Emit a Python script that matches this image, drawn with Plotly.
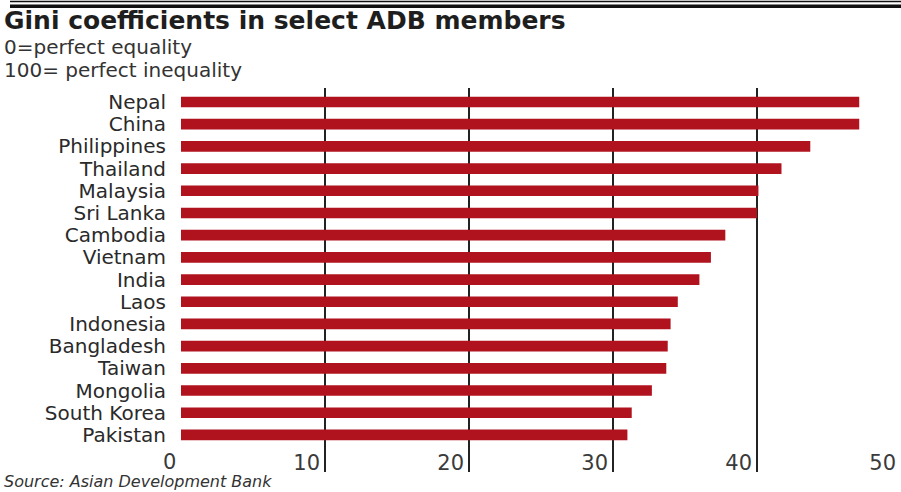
import plotly.graph_objects as go

countries = ["Nepal", "China", "Philippines", "Thailand", "Malaysia", "Sri Lanka",
             "Cambodia", "Vietnam", "India", "Laos", "Indonesia", "Bangladesh",
             "Taiwan", "Mongolia", "South Korea", "Pakistan"]
gini = [47.1, 47.1, 43.7, 41.7, 40.1, 40.0, 37.8, 36.8, 36.0, 34.5, 34.0,
        33.8, 33.7, 32.7, 31.3, 31.0]
x_ticks = [0, 10, 20, 30, 40, 50]
x_ticktext = ["0", "10", "20", "30", "40", "50"]

title_text = "Gini coefficients in select ADB members"
subtitle_1 = "0=perfect equality"
subtitle_2 = "100= perfect inequality"
source_text = "Source: Asian Development Bank"

W, H = 901, 492
ML, MR, MT, MB = 181, 0, 88, 20
PW, PH = W - ML - MR, H - MT - MB

def px(x):
    return (x - ML) / PW

def py(y):
    return (H - MB - y) / PH

FONT = "DejaVu Sans"
TICK_FONT = dict(family=FONT, size=21, color="#3a3a3a")

fig = go.Figure(go.Bar(
    x=gini, y=countries, orientation="h",
    marker=dict(color="#B0121E", line=dict(width=0)),
    width=0.48, hoverinfo="x+y",
))

annotations = [
    dict(text="<b>" + title_text + "</b>", xref="paper", yref="paper",
         x=px(2), y=py(21), xanchor="left", yanchor="middle", showarrow=False,
         font=dict(family=FONT, size=25, color="#1e1e1e")),
    dict(text=subtitle_1, xref="paper", yref="paper",
         x=px(2), y=py(47), xanchor="left", yanchor="middle", showarrow=False,
         font=dict(family=FONT, size=20, color="#333333")),
    dict(text=subtitle_2, xref="paper", yref="paper",
         x=px(2), y=py(70), xanchor="left", yanchor="middle", showarrow=False,
         font=dict(family=FONT, size=20, color="#333333")),
    dict(text="<i>" + source_text + "</i>", xref="paper", yref="paper",
         x=px(2), y=py(481), xanchor="left", yanchor="middle", showarrow=False,
         font=dict(family=FONT, size=16, color="#333333")),
    # the "0" tick label sits left of the axis line, outside the plot area
    dict(text=x_ticktext[0], xref="x", yref="paper",
         x=x_ticks[0], y=py(462), xanchor="right", yanchor="middle",
         xshift=-3, showarrow=False, font=TICK_FONT),
]

fig.update_layout(
    width=W, height=H,
    margin=dict(l=ML, r=MR, t=MT, b=MB, pad=0),
    paper_bgcolor="white", plot_bgcolor="white",
    showlegend=False,
    font=dict(family=FONT, color="#333333"),
    xaxis=dict(
        range=[0, 50], tickmode="array", tickvals=x_ticks, ticktext=x_ticktext,
        showgrid=True, gridcolor="#222222", gridwidth=2,
        zeroline=False, showline=False, ticks="",
        ticklabelposition="inside left", ticklabelshift=-5, ticklabelstandoff=-8,
        tickfont=TICK_FONT,
        fixedrange=True,
    ),
    yaxis=dict(
        type="category", categoryorder="array", categoryarray=countries,
        tickmode="array", tickvals=countries, ticktext=countries,
        range=[16.67, -0.63], showgrid=False, zeroline=False, showline=False,
        ticks="", ticklabelstandoff=14,
        tickfont=dict(family=FONT, size=20, color="#2a2a2a"),
        fixedrange=True,
    ),
    shapes=[
        dict(type="line", xref="paper", yref="paper", x0=px(10), x1=px(901),
             y0=py(1.5), y1=py(1.5), line=dict(color="#111111", width=1.5)),
        dict(type="line", xref="paper", yref="paper", x0=px(10), x1=px(901),
             y0=py(6.3), y1=py(6.3), line=dict(color="#111111", width=3.6)),
    ],
    annotations=annotations,
)

fig.write_html(
    "out.html",
    config={"displayModeBar": False},
    post_script="document.body.style.margin='0';document.body.style.overflow='hidden';",
)
